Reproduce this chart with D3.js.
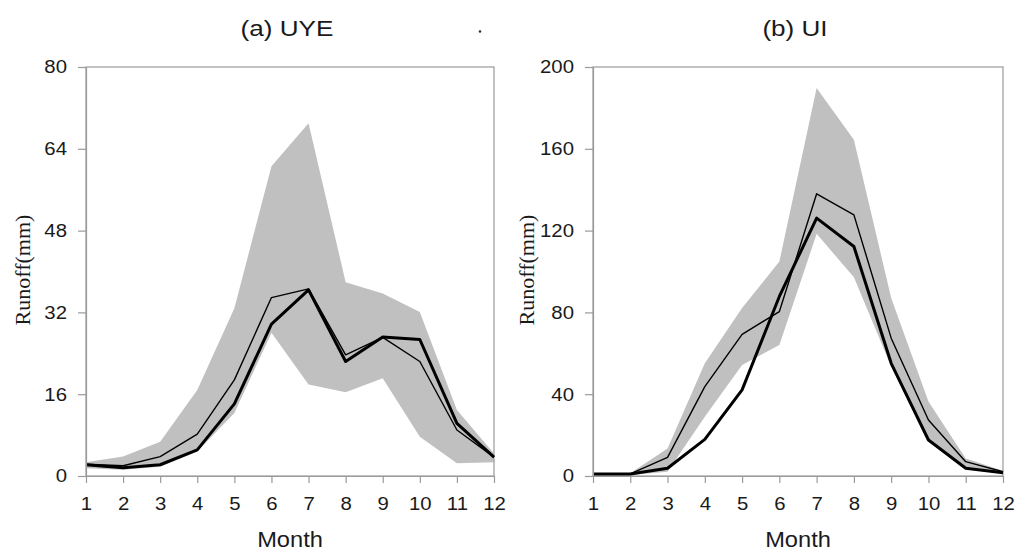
<!DOCTYPE html>
<html>
<head>
<meta charset="utf-8">
<script src="https://cdn.jsdelivr.net/npm/d3@7"></script>
<style>
  body { margin: 0; background: #fff; }
  svg { display: block; }
</style>
</head>
<body>
<script>
const months = [1, 2, 3, 4, 5, 6, 7, 8, 9, 10, 11, 12]

// (a) UYE
const uyeUpper = [2.7, 3.8, 6.7, 16.8, 32.8, 60.6, 69.0, 37.9, 35.7, 32.1, 12.9, 4.4]
const uyeLower = [1.5, 1.2, 1.8, 4.8, 12.3, 28.0, 17.9, 16.4, 19.1, 7.7, 2.5, 2.7]
const uyeThin = [2.3, 2.0, 3.8, 8.2, 18.8, 34.9, 36.6, 23.7, 27.1, 22.4, 9.0, 3.7]
const uyeThick = [2.2, 1.6, 2.2, 5.1, 14.1, 29.7, 36.4, 22.4, 27.2, 26.7, 10.3, 3.7]
const uyeTicks = [0, 16, 32, 48, 64, 80]

// (b) UI
const uiUpper = [1.0, 1.3, 13.5, 55.1, 82.1, 104.9, 189.7, 164.4, 87.0, 36.4, 8.6, 2.6]
const uiLower = [0.5, 0.5, 2.1, 29.0, 54.3, 64.1, 118.4, 97.2, 53.5, 16.8, 3.8, 1.0]
const uiThin = [1.0, 1.0, 9.1, 43.7, 69.3, 80.4, 138.0, 127.7, 67.4, 27.4, 7.0, 2.1]
const uiThick = [1.0, 1.0, 3.8, 17.9, 42.1, 87.8, 126.1, 112.2, 55.1, 17.6, 3.8, 1.6]
const uiTicks = [0, 40, 80, 120, 160, 200]

const panels = [
    {title: '(a) UYE', left: 86, right: 494, max: 80, ticks: uyeTicks, upper: uyeUpper, lower: uyeLower, thin: uyeThin, thick: uyeThick, labelX: 30},
    {title: '(b) UI', left: 593, right: 1003, max: 200, ticks: uiTicks, upper: uiUpper, lower: uiLower, thin: uiThin, thick: uiThick, labelX: 534},
]

const plotTop = 67
const plotBottom = 476
const stretch = 1.1   // the source picture is a bit wider than tall
const axisColor = '#9a9a9a'
const sans = 'Arial, "Liberation Sans", sans-serif'

const svg = d3.select('body').append('svg')
    .attr('width', 1017)
    .attr('height', 552)

for (const p of panels) {
    const x = d3.scaleLinear().domain([1, 12]).range([p.left, p.right])
    const y = d3.scaleLinear().domain([0, p.max]).range([plotBottom, plotTop])
    const g = svg.append('g')

    const band = d3.area()
        .x((d, i) => x(months[i]))
        .y0((d, i) => y(p.lower[i]))
        .y1(d => y(d))
    g.append('path')
        .attr('d', band(p.upper))
        .attr('fill', '#c0c0c0')

    // frame
    g.append('rect')
        .attr('x', p.left)
        .attr('y', plotTop)
        .attr('width', p.right - p.left)
        .attr('height', plotBottom - plotTop)
        .attr('fill', 'none')
        .attr('stroke', axisColor)
        .attr('stroke-width', 1.2)

    const line = d3.line()
        .x((d, i) => x(months[i]))
        .y(d => y(d))
    g.append('path')
        .attr('d', line(p.thin))
        .attr('fill', 'none')
        .attr('stroke', '#000')
        .attr('stroke-width', 1.4)
        .attr('stroke-linejoin', 'round')
    g.append('path')
        .attr('d', line(p.thick))
        .attr('fill', 'none')
        .attr('stroke', '#000')
        .attr('stroke-width', 3)
        .attr('stroke-linejoin', 'round')

    const yAxis = g.append('g')
        .attr('transform', `translate(${p.left},0)`)
        .call(d3.axisLeft(y).tickValues(p.ticks).tickSize(8).tickSizeOuter(0).tickPadding(11))
    const xAxis = g.append('g')
        .attr('transform', `translate(0,${plotBottom})`)
        .call(d3.axisBottom(x).tickValues(months).tickSize(7).tickSizeOuter(0).tickPadding(14).tickFormat(d3.format('d')))

    for (const ax of [yAxis, xAxis]) {
        ax.attr('font-family', sans).attr('font-size', 18.5)
        ax.select('.domain').attr('stroke', axisColor).attr('stroke-width', 1.2)
        ax.selectAll('.tick line').attr('stroke', axisColor).attr('stroke-width', 1.2)
        ax.selectAll('.tick text').attr('fill', '#1a1a1a')
    }
    // widen the labels a little, keeping their anchor point
    yAxis.selectAll('.tick text')
        .attr('x', -19 / stretch)
        .attr('transform', `scale(${stretch},1)`)
    xAxis.selectAll('.tick text')
        .attr('transform', `scale(${stretch},1)`)

    const cx = (p.left + p.right) / 2
    g.append('text')
        .attr('transform', `translate(${cx - 3},36) scale(1.16,1)`)
        .attr('text-anchor', 'middle')
        .attr('font-family', sans)
        .attr('font-size', 22.5)
        .attr('fill', '#1a1a1a')
        .text(p.title)

    g.append('text')
        .attr('transform', `translate(${cx},547) scale(${stretch},1)`)
        .attr('text-anchor', 'middle')
        .attr('font-family', sans)
        .attr('font-size', 21.5)
        .attr('fill', '#1a1a1a')
        .text('Month')

    g.append('text')
        .attr('transform', `translate(${p.labelX},270) rotate(-90)`)
        .attr('text-anchor', 'middle')
        .attr('font-family', '"Liberation Serif", "Times New Roman", serif')
        .attr('font-size', 22)
        .attr('fill', '#1a1a1a')
        .text('Runoff(mm)')
}

// stray dot between the titles in the source
svg.append('circle')
    .attr('cx', 480)
    .attr('cy', 31.5)
    .attr('r', 1.3)
    .attr('fill', '#333')
</script>
</body>
</html>
